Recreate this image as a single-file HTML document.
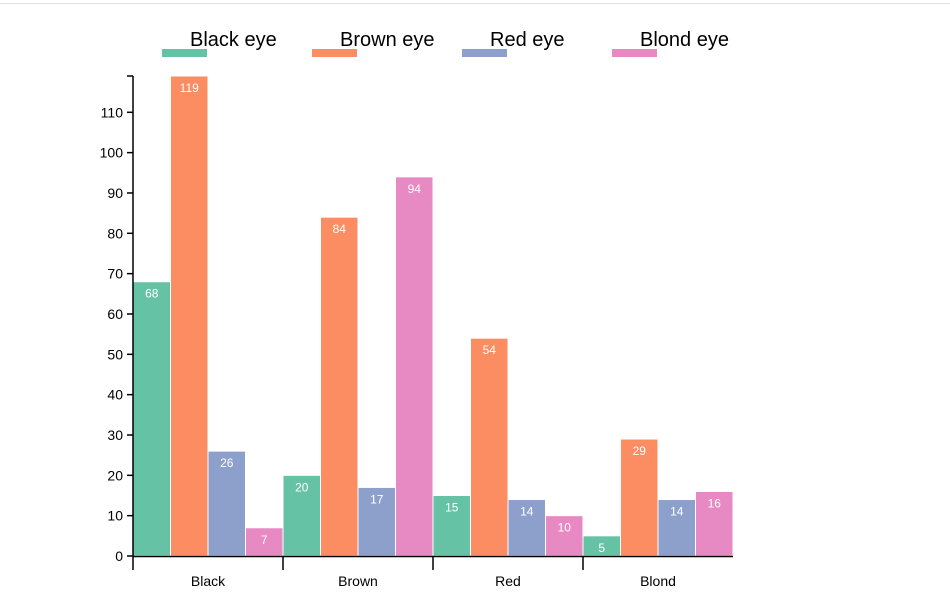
<!DOCTYPE html>
<html><head><meta charset="utf-8"><style>
body{margin:0;background:#fff;}
svg{display:block;font-family:"Liberation Sans","Microsoft YaHei",sans-serif;}
</style></head><body>
<svg id="chart" width="950" height="602">
<line x1="0" y1="3.5" x2="950" y2="3.5" stroke="#e0e0e0"/>
</svg>
<script>
const categories=["Black","Brown","Red","Blond"];
const series=["Black eye","Brown eye","Red eye","Blond eye"];
const blackEye=[68,20,15,5];
const brownEye=[119,84,54,29];
const redEye=[26,17,14,14];
const blondEye=[7,94,10,16];
const yTicks=[0,10,20,30,40,50,60,70,80,90,100,110];
const colors=["#66c2a5","#fc8d62","#8da0cb","#e78ac3"];
const values=[blackEye,brownEye,redEye,blondEye];
const svg=document.getElementById('chart');
const NS="http://www.w3.org/2000/svg";
const x0=133,x1=733,y0=556,y1=76;
const yMax=Math.max(...values.flat());
const y=v=>y0-(v/yMax)*(y0-y1);
const bandW=(x1-x0)/categories.length, barW=bandW/series.length;
function mk(t,a,txt){const e=document.createElementNS(NS,t);for(const k in a)e.setAttribute(k,a[k]);if(txt!==undefined)e.textContent=txt;svg.appendChild(e);return e;}
// legend
series.forEach((s,i)=>{
 const lx=162+150*i;
 const r=mk('rect',{x:lx,y:49,width:45,height:8,fill:colors[i]});
 
 
 const t=mk('text',{x:lx+28,y:46,'font-size':20,fill:'#000'},s);
 
 
});
// bars
categories.forEach((c,ci)=>{
 values.forEach((arr,si)=>{
  const v=arr[ci];const bx=x0+ci*bandW+si*barW;
  const r=mk('rect',{x:bx,y:y(v),width:barW,height:y0-y(v),fill:colors[si],stroke:'#fff','stroke-width':1});
  
  
  const t=mk('text',{x:bx+barW/2,y:y(v)+16,'font-size':12,fill:'#fff','text-anchor':'middle'},v);
  
  
 });
 const t=mk('text',{x:x0+ci*bandW+bandW/2,y:586,'font-size':14,fill:'#000','text-anchor':'middle'},c);
 
 
});
// y axis
const ya=mk('line',{x1:x0,y1:y1,x2:x0,y2:y0,stroke:'#000','stroke-width':1.5});


mk('line',{x1:x0-6,y1:y1,x2:x0,y2:y1,stroke:'#000','stroke-width':1.5});
yTicks.forEach(v=>{
 mk('line',{x1:x0-6,y1:y(v),x2:x0,y2:y(v),stroke:'#000','stroke-width':1.5});
 const t=mk('text',{x:x0-10,y:y(v)+5,'font-size':14,fill:'#000','text-anchor':'end'},v);
 
 
});
// x axis
const xa=mk('line',{x1:x0,y1:y0+0.5,x2:x1,y2:y0+0.5,stroke:'#000','stroke-width':1.5});


for(let i=0;i<categories.length;i++){
 mk('line',{x1:x0+i*bandW,y1:y0,x2:x0+i*bandW,y2:y0+14,stroke:'#000','stroke-width':1.5});
}
</script>
</body></html>
